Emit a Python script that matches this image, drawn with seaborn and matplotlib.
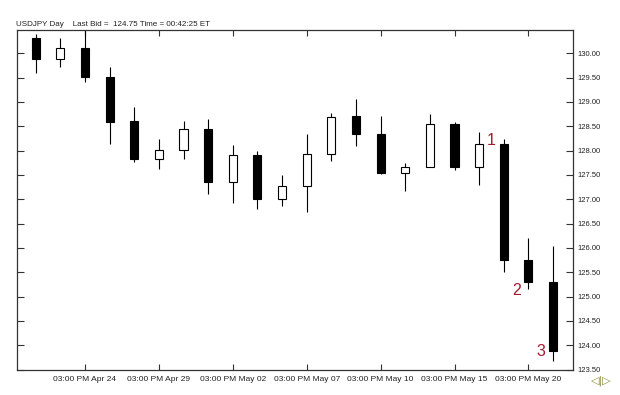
import matplotlib
matplotlib.use("Agg")
import matplotlib.pyplot as plt
import seaborn as sns
import pandas as pd
import numpy as np

# ---- data ----
opens  = [130.32, 129.89, 130.12, 129.52, 128.60, 127.82, 128.01, 128.44, 127.36, 127.92, 127.00,
          127.27, 127.94, 128.71, 128.35, 127.53, 127.66, 128.55, 127.66, 128.13, 125.76, 125.30]
highs  = [130.39, 130.31, 130.48, 129.71, 128.89, 128.24, 128.61, 128.65, 128.12, 127.99, 127.50,
          128.34, 128.78, 129.06, 128.72, 127.75, 128.76, 128.59, 128.38, 128.24, 126.21, 126.04]
lows   = [129.60, 129.71, 129.41, 128.14, 127.77, 127.63, 127.82, 127.10, 126.93, 126.81, 126.87,
          126.74, 127.78, 128.09, 127.52, 127.18, 127.66, 127.61, 127.30, 125.51, 125.15, 123.67]
closes = [129.89, 130.12, 129.51, 128.59, 127.82, 128.01, 128.44, 127.36, 127.91, 127.00, 127.28,
          127.94, 128.69, 128.35, 127.53, 127.67, 128.55, 127.66, 128.13, 125.75, 125.30, 123.89]
tick_positions = [2, 5, 8, 11, 14, 17, 20]
tick_labels = ["03:00 PM Apr 24", "03:00 PM Apr 29", "03:00 PM May 02", "03:00 PM May 07",
               "03:00 PM May 10", "03:00 PM May 15", "03:00 PM May 20"]
y_ticks = [123.5, 124.0, 124.5, 125.0, 125.5, 126.0, 126.5, 127.0, 127.5,
           128.0, 128.5, 129.0, 129.5, 130.0]
marked_candles = [19, 20, 21]
marked_text = ["1", "2", "3"]
header = "USDJPY Day    Last Bid =  124.75 Time = 00:42:25 ET"

df = pd.DataFrame({"open": opens, "high": highs, "low": lows, "close": closes})
df["idx"] = np.arange(len(df))
df["up"] = df["close"] >= df["open"]
df["body_lo"] = df[["open", "close"]].min(axis=1)
df["body_h"] = (df["open"] - df["close"]).abs()

sns.set_theme(style="white")
plt.rcParams["font.family"] = ["Liberation Sans", "DejaVu Sans"]

fig = plt.figure(figsize=(6.2, 3.95), dpi=100)
ax = fig.add_axes([17/620, 1-370/395, (573-17)/620, 340/395])
ax.set_facecolor("white")

# wicks
ax.vlines(df["idx"], df["low"], df["high"], color="black", linewidth=0.8, zorder=1)
# bodies
colors = np.where(df["up"], "white", "black")
ax.bar(df["idx"], df["body_h"], bottom=df["body_lo"], width=0.33,
       color=colors, edgecolor="black", linewidth=0.8, zorder=2)

# annotations placed beside the marked candles
label_offsets = {19: (-0.52, -0.04), 20: (-0.48, -0.03), 21: (-0.48, -0.02)}
anchor = {19: "high", 20: "low", 21: "close"}
for i, t in zip(marked_candles, marked_text):
    dx, dy = label_offsets[i]
    ax.text(i + dx, df.loc[i, anchor[i]] + dy, t,
            color="#a8182e", fontsize=11.5, ha="center", va="center",
            family=["Liberation Sans", "DejaVu Sans"])

ax.set_xlim(-0.76, 21.81)
ax.set_ylim(123.49, 130.48)

ax.set_xticks(tick_positions)
ax.set_xticklabels(tick_labels, fontsize=6, color="#222222")
ax.set_yticks(y_ticks)
ax.set_yticklabels([f"{v:.2f}" for v in y_ticks], fontsize=5.5, color="#222222")
ax.yaxis.tick_right()
ax.tick_params(axis="y", which="both", direction="in", length=5, width=0.8,
               left=True, right=True, labelleft=False, labelright=True, pad=3, color="#333333")
ax.tick_params(axis="x", which="both", direction="in", length=4, width=0.8,
               top=True, bottom=True, pad=4, color="#333333")

for s in ax.spines.values():
    s.set_visible(True)
    s.set_color("#333333")
    s.set_linewidth(0.9)

ax.grid(False)

fig.text(16/620, 1-24/395, header, fontsize=5.8, color="#222222", ha="left", va="center")
fig.text(601/620, 1-381/395, "◁|▷", fontsize=8, color="#8c8c3c", ha="center", va="center",
         family=["DejaVu Sans"])

fig.savefig("out.png", dpi=100, facecolor="white")
